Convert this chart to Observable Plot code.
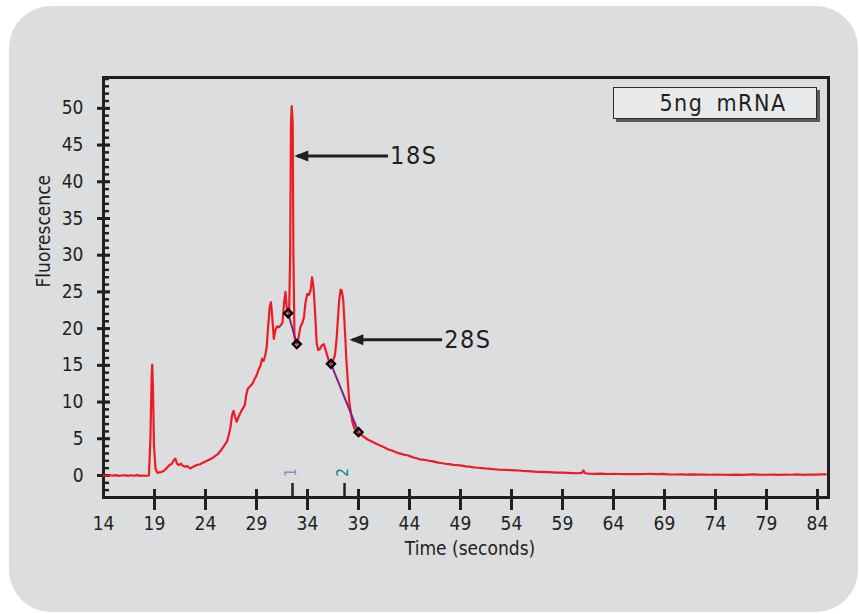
<!DOCTYPE html>
<html>
<head>
<meta charset="utf-8">
<script src="https://cdn.jsdelivr.net/npm/d3@7"></script>
<script src="https://cdn.jsdelivr.net/npm/@observablehq/plot@0.6"></script>
<style>
  html, body { margin: 0; padding: 0; background: #ffffff; }
  #wrap { position: relative; width: 859px; height: 614px; overflow: hidden; font-family: "Liberation Sans Narrow", "DejaVu Sans Condensed", "Liberation Sans", sans-serif; }
  #panel { position: absolute; left: 9px; top: 6px; width: 849px; height: 606px; border-radius: 42px; background: #dcdddf; }
  #chart { position: absolute; left: 0; top: 0; }
  #legend { position: absolute; left: 613px; top: 87px; width: 204px; height: 32px; box-sizing: border-box; background: #e8e9eb; border: 1px solid #2a2a2a; box-shadow: 3px 3px 0 #58595b; color: #231f20; font-size: 23px; letter-spacing: 1.5px; word-spacing: 5px; line-height: 30px; text-align: center; padding-left: 16px; }
</style>
</head>
<body>
<div id="wrap">
  <div id="panel"></div>
  <div id="chart"></div>
  <div id="legend">5ng mRNA</div>
</div>
<script>
// Electropherogram trace (time in seconds, fluorescence units)
const time = [14.0,14.3,14.6,14.9,15.2,15.5,15.8,16.1,16.4,16.7,17.0,17.3,17.6,17.9,18.2,18.45,18.6,18.72,18.78,18.85,18.95,19.1,19.3,19.6,19.9,20.2,20.45,20.7,20.9,21.05,21.2,21.4,21.6,21.8,22.0,22.2,22.5,22.8,23.1,23.4,23.7,24.0,24.3,24.6,24.9,25.2,25.5,25.8,26.1,26.3,26.45,26.6,26.75,26.9,27.05,27.25,27.45,27.65,27.85,28.0,28.15,28.4,28.6,28.8,29.0,29.2,29.4,29.55,29.7,29.85,30.0,30.15,30.3,30.42,30.55,30.7,30.85,31.0,31.2,31.4,31.55,31.7,31.84,31.95,32.07,32.2,32.3,32.38,32.45,32.55,32.62,32.72,32.85,33.0,33.15,33.3,33.5,33.65,33.8,33.97,34.15,34.3,34.45,34.6,34.75,34.9,35.05,35.2,35.4,35.6,35.75,35.9,36.1,36.3,36.5,36.7,36.85,36.97,37.1,37.25,37.35,37.5,37.6,37.7,37.8,37.95,38.1,38.25,38.4,38.6,38.8,39.0,39.3,39.6,39.9,40.2,40.5,40.8,41.1,41.4,41.7,42.0,42.3,42.6,42.9,43.2,43.5,43.8,44.1,44.4,44.7,45.0,45.3,45.6,45.9,46.2,46.5,46.8,47.1,47.5,47.9,48.3,48.7,49.1,49.5,49.9,50.3,50.7,51.1,51.5,51.9,52.3,52.7,53.1,53.5,53.9,54.3,54.7,55.1,55.5,56.0,56.5,57.0,57.5,58.0,58.5,59.0,59.5,60.0,60.5,60.9,61.05,61.2,61.6,62.2,62.8,63.4,64.0,64.6,65.2,65.8,66.4,67.0,67.6,68.2,68.8,69.4,70.0,70.6,71.2,71.8,72.4,73.0,73.6,74.2,74.8,75.4,76.0,76.6,77.2,77.8,78.4,79.0,79.6,80.2,80.8,81.4,82.0,82.6,83.2,83.8,84.4,84.8];
const fluor = [0.0,-0.04,0.03,-0.03,0.05,-0.05,0.0,0.04,-0.05,0.03,-0.04,0.05,-0.06,0.0,-0.04,0.0,5.0,13.5,15.1,12.0,4.0,0.9,0.35,0.45,0.6,1.0,1.4,1.6,2.1,2.3,1.6,1.4,1.6,1.3,1.2,1.3,0.95,1.2,1.4,1.5,1.7,1.9,2.1,2.3,2.6,2.9,3.4,4.0,4.6,5.6,6.6,8.2,8.8,8.0,7.3,8.0,8.6,9.1,9.6,11.0,11.8,12.2,12.5,13.1,13.6,14.4,15.0,15.9,15.6,16.3,17.5,20.5,23.0,23.6,21.5,18.6,19.8,20.3,20.2,20.5,20.8,23.5,25.0,23.0,22.3,22.2,30.0,48.0,50.3,48.0,30.0,19.0,18.0,17.9,19.0,20.2,20.8,21.5,23.5,24.7,24.6,25.2,27.0,25.5,22.0,18.0,17.1,17.2,17.7,17.9,17.2,16.5,15.6,15.2,15.6,16.5,18.5,21.1,23.8,25.3,25.2,24.0,21.5,19.0,16.0,12.9,10.0,8.6,7.3,6.4,6.1,5.8,5.5,5.2,4.9,4.7,4.5,4.3,4.1,3.9,3.7,3.5,3.4,3.2,3.05,2.95,2.8,2.75,2.6,2.45,2.35,2.2,2.15,2.1,2.0,1.95,1.85,1.75,1.7,1.6,1.55,1.45,1.4,1.35,1.25,1.2,1.1,1.05,1.0,0.95,0.9,0.85,0.8,0.78,0.75,0.72,0.7,0.68,0.62,0.6,0.55,0.5,0.48,0.45,0.42,0.4,0.38,0.35,0.32,0.3,0.35,0.7,0.3,0.25,0.22,0.25,0.2,0.22,0.2,0.18,0.2,0.17,0.2,0.22,0.18,0.22,0.15,0.13,0.16,0.12,0.15,0.12,0.13,0.1,0.12,0.1,0.08,0.12,0.07,0.12,0.14,0.1,0.1,0.12,0.08,0.12,0.1,0.14,0.09,0.13,0.12,0.14,0.15];

// Peak-integration baseline points (diamonds) and segments
const baseX = [32.1, 32.95, 36.3, 39.0];
const baseY = [22.1, 17.9, 15.2, 5.9];

// Peak region markers on the time axis
const regionX = [32.53, 37.63];
const regionLabels = ["1", "2"];
const regionColors = ["#8c8cc8", "#137e80"];

// Annotation arrows
const arrowLabels = ["18S", "28S"];
const arrowTipX = [33.0, 38.4];
const arrowTailX = [41.9, 47.2];
const arrowY = [43.5, 18.5];

// Axis ticks
const xTicks = [14, 19, 24, 29, 34, 39, 44, 49, 54, 59, 64, 69, 74, 79, 84];
const yTicks = [0, 5, 10, 15, 20, 25, 30, 35, 40, 45, 50];
const yMinor = d3.range(-2, 55, 1);

const trace = time.map((t, i) => ({t, f: fluor[i]}));
const diamonds = baseX.map((x, i) => ({x, y: baseY[i]}));
const segs = [{x1: baseX[0], y1: baseY[0], x2: baseX[1], y2: baseY[1]}, {x1: baseX[2], y1: baseY[2], x2: baseX[3], y2: baseY[3]}];
const regions = regionX.map((x, i) => ({x, label: regionLabels[i], color: regionColors[i]}));
const arrows = arrowLabels.map((label, i) => ({label, x1: arrowTailX[i], x2: arrowTipX[i], y: arrowY[i]}));

const ink = "#231f20";

function solidArrow(color) {
  const ns = "http://www.w3.org/2000/svg";
  const m = document.createElementNS(ns, "marker");
  m.setAttribute("viewBox", "-14 -6 16 12");
  m.setAttribute("markerUnits", "userSpaceOnUse");
  m.setAttribute("markerWidth", 16);
  m.setAttribute("markerHeight", 12);
  m.setAttribute("orient", "auto");
  m.setAttribute("refX", -2);
  m.setAttribute("refY", 0);
  const p = document.createElementNS(ns, "path");
  p.setAttribute("d", "M-13,-5.5L1,0L-13,5.5Z");
  p.setAttribute("fill", color);
  p.setAttribute("stroke", "none");
  m.appendChild(p);
  return m;
}

function spaced(px) {
  return (index, scales, values, dimensions, context, next) => {
    const g = next(index, scales, values, dimensions, context);
    g.setAttribute("letter-spacing", px);
    return g;
  };
}

const chart = Plot.plot({
  width: 859,
  height: 614,
  marginLeft: 103,
  marginTop: 77,
  marginRight: 31,
  marginBottom: 117,
  x: {domain: [14, 85.08], axis: null},
  y: {domain: [-3, 54.2], axis: null},
  style: {background: "transparent", color: ink, fontFamily: '"Liberation Sans Narrow", "DejaVu Sans Condensed", sans-serif', fontSize: "19px", overflow: "visible"},
  marks: [
    Plot.frame({stroke: ink, strokeWidth: 3}),
    // minor y ticks (inside)
    Plot.axisY(yMinor, {anchor: "left", tickSize: 6, dx: 6, fill: "none", stroke: ink, strokeWidth: 2.5, label: null}),
    // major y ticks crossing the axis, with labels
    Plot.axisY(yTicks, {anchor: "left", tickSize: 13, dx: 7, tickPadding: 14, stroke: ink, strokeWidth: 3, fill: ink, label: null}),
    // x ticks crossing the axis
    Plot.axisX(xTicks.slice(1), {anchor: "bottom", tickSize: 21, dy: -8, fill: "none", stroke: ink, strokeWidth: 3, label: null}),
    // x tick labels
    Plot.axisX(xTicks, {anchor: "bottom", tickSize: 0, tickPadding: 19, fill: ink, label: null}),
    // region markers
    Plot.axisX(regionX, {anchor: "bottom", tickSize: 14, dy: -14, fill: "none", stroke: ink, strokeWidth: 2.5, label: null}),
    Plot.text(regions, {x: "x", text: "label", fill: "color", frameAnchor: "bottom", lineAnchor: "middle", dy: -25, dx: -1, rotate: -90, fontSize: 15}),
    // axis titles
    Plot.text(["Time (seconds)"], {frameAnchor: "bottom", lineAnchor: "middle", dy: 51, dx: 4, fontSize: 19, fill: ink}),
    Plot.text(["Fluorescence"], {frameAnchor: "left", dx: -60, rotate: -90, fontSize: 19, fill: ink}),
    // trace
    Plot.line(trace, {x: "t", y: "f", stroke: "#ed1c24", strokeWidth: 2.2, curve: "linear"}),
    // baseline segments
    Plot.link(segs, {x1: "x1", y1: "y1", x2: "x2", y2: "y2", stroke: "#86207f", strokeWidth: 2}),
    Plot.dot(diamonds, {x: "x", y: "y", symbol: "diamond2", r: 3.6, stroke: "#000", strokeWidth: 2.4, fill: "none"}),
    // annotation arrows
    Plot.link(arrows, {x1: "x1", y1: "y", x2: "x2", y2: "y", stroke: ink, strokeWidth: 3, markerEnd: solidArrow}),
    Plot.text(arrows, {x: "x1", y: "y", text: "label", textAnchor: "start", dx: 2, fontSize: 25, fill: ink, render: spaced("1.5px")})
  ]
});
document.getElementById("chart").appendChild(chart);
</script>
</body>
</html>
